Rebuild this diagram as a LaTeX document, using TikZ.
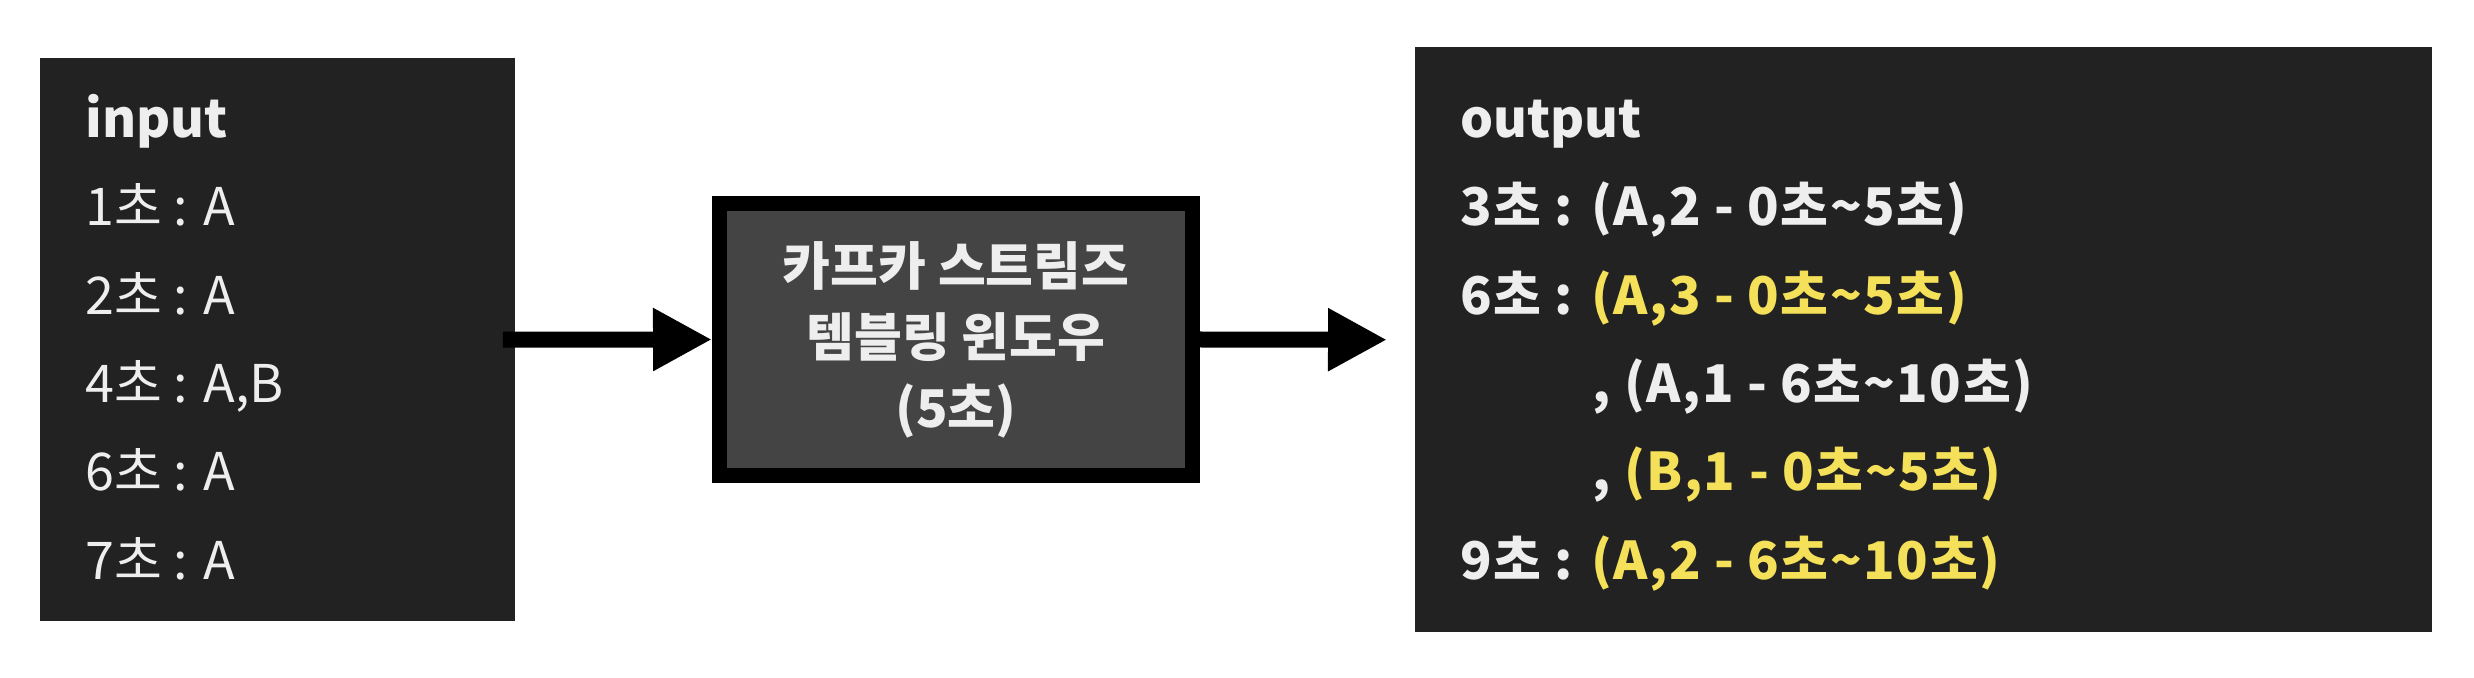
\documentclass[tikz,border=0pt]{standalone}
\usepackage{fontspec}
\setmainfont{Noto Sans CJK KR}
\usetikzlibrary{arrows.meta}
\definecolor{boxdark}{HTML}{222222}
\definecolor{boxmid}{HTML}{444444}
\definecolor{textlight}{HTML}{EEEEEE}
\definecolor{hilite}{HTML}{F5E05A}

\begin{document}
\begin{tikzpicture}[x=0.5pt,y=-0.5pt]
    \newcommand{\linegap}[0]{ 44.15pt }
    \tikzstyle{panel} = [fill=boxdark, anchor=north west, inner sep=0pt]
    \tikzstyle{window} = [
      fill=boxmid,
      draw=black,
      line width=7.5pt,
      minimum width=236.5pt,
      minimum height=136pt,
      align=center,
      text=textlight,
      font=\fontsize{26pt}{35.5pt}\selectfont\bfseries
    ]
    \tikzstyle{entry}  = [anchor=base west, inner sep=0pt, text=textlight,
                          font=\fontsize{26pt}{26pt}\selectfont]
    \tikzstyle{bentry} = [entry, font=\fontsize{26pt}{26pt}\selectfont\bfseries]
    \tikzstyle{wentry} = [entry, font=\fontsize{26pt}{26pt}\selectfont\bfseries\addfontfeature{LetterSpace=3}]
    \tikzstyle{flow}   = [line width=8pt, draw=black,
                          -{Triangle[length=29.5pt,width=29.5pt]}]

    \useasboundingbox (0,0) rectangle (2474,678);

    \node[panel, minimum width=237.5pt, minimum height=281.75pt] (inbox) at (40,57.5) {};
    \node[panel, minimum width=508.5pt, minimum height=292.65pt] (outbox) at (1415,46.7) {};
    \node[window] (tumble) at (956,339.5) {카프카 스트림즈\\템블링 윈도우\\(5초)};

    \node[bentry] (in title) at (85,137.5) {input};
    \node[entry] (in 1) at ([yshift=-\linegap]in title.base west) {1초 : A};
    \node[entry] (in 2) at ([yshift=-\linegap]in 1.base west) {2초 : A};
    \node[entry] (in 4) at ([yshift=-\linegap]in 2.base west) {4초 : A,B};
    \node[entry] (in 6) at ([yshift=-\linegap]in 4.base west) {6초 : A};
    \node[entry] (in 7) at ([yshift=-\linegap]in 6.base west) {7초 : A};

    \node[bentry] (out title) at (1460,137.5) {output};
    \node[wentry] (out 3) at ([yshift=-\linegap]out title.base west) {3초 : (A,2 - 0초\textasciitilde5초)};
    \node[wentry] (out 6) at ([yshift=-\linegap]out 3.base west) {6초 : \textcolor{hilite}{(A,3 - 0초\textasciitilde5초)}};
    \node[wentry] (out 6b) at ([xshift=66pt,yshift=-\linegap]out 6.base west) {, (A,1 - 6초\textasciitilde10초)};
    \node[wentry] (out 6c) at ([yshift=-\linegap]out 6b.base west) {, \textcolor{hilite}{(B,1 - 0초\textasciitilde5초)}};
    \node[wentry] (out 9) at ([xshift=-66pt,yshift=-\linegap]out 6c.base west) {9초 : \textcolor{hilite}{(A,2 - 6초\textasciitilde10초)}};

    \draw[flow] ([xshift=-6.5pt]inbox.east) -- (tumble.west);
    \draw[flow] (tumble.east) -- ([xshift=-14pt]outbox.west);
\end{tikzpicture}
\end{document}
